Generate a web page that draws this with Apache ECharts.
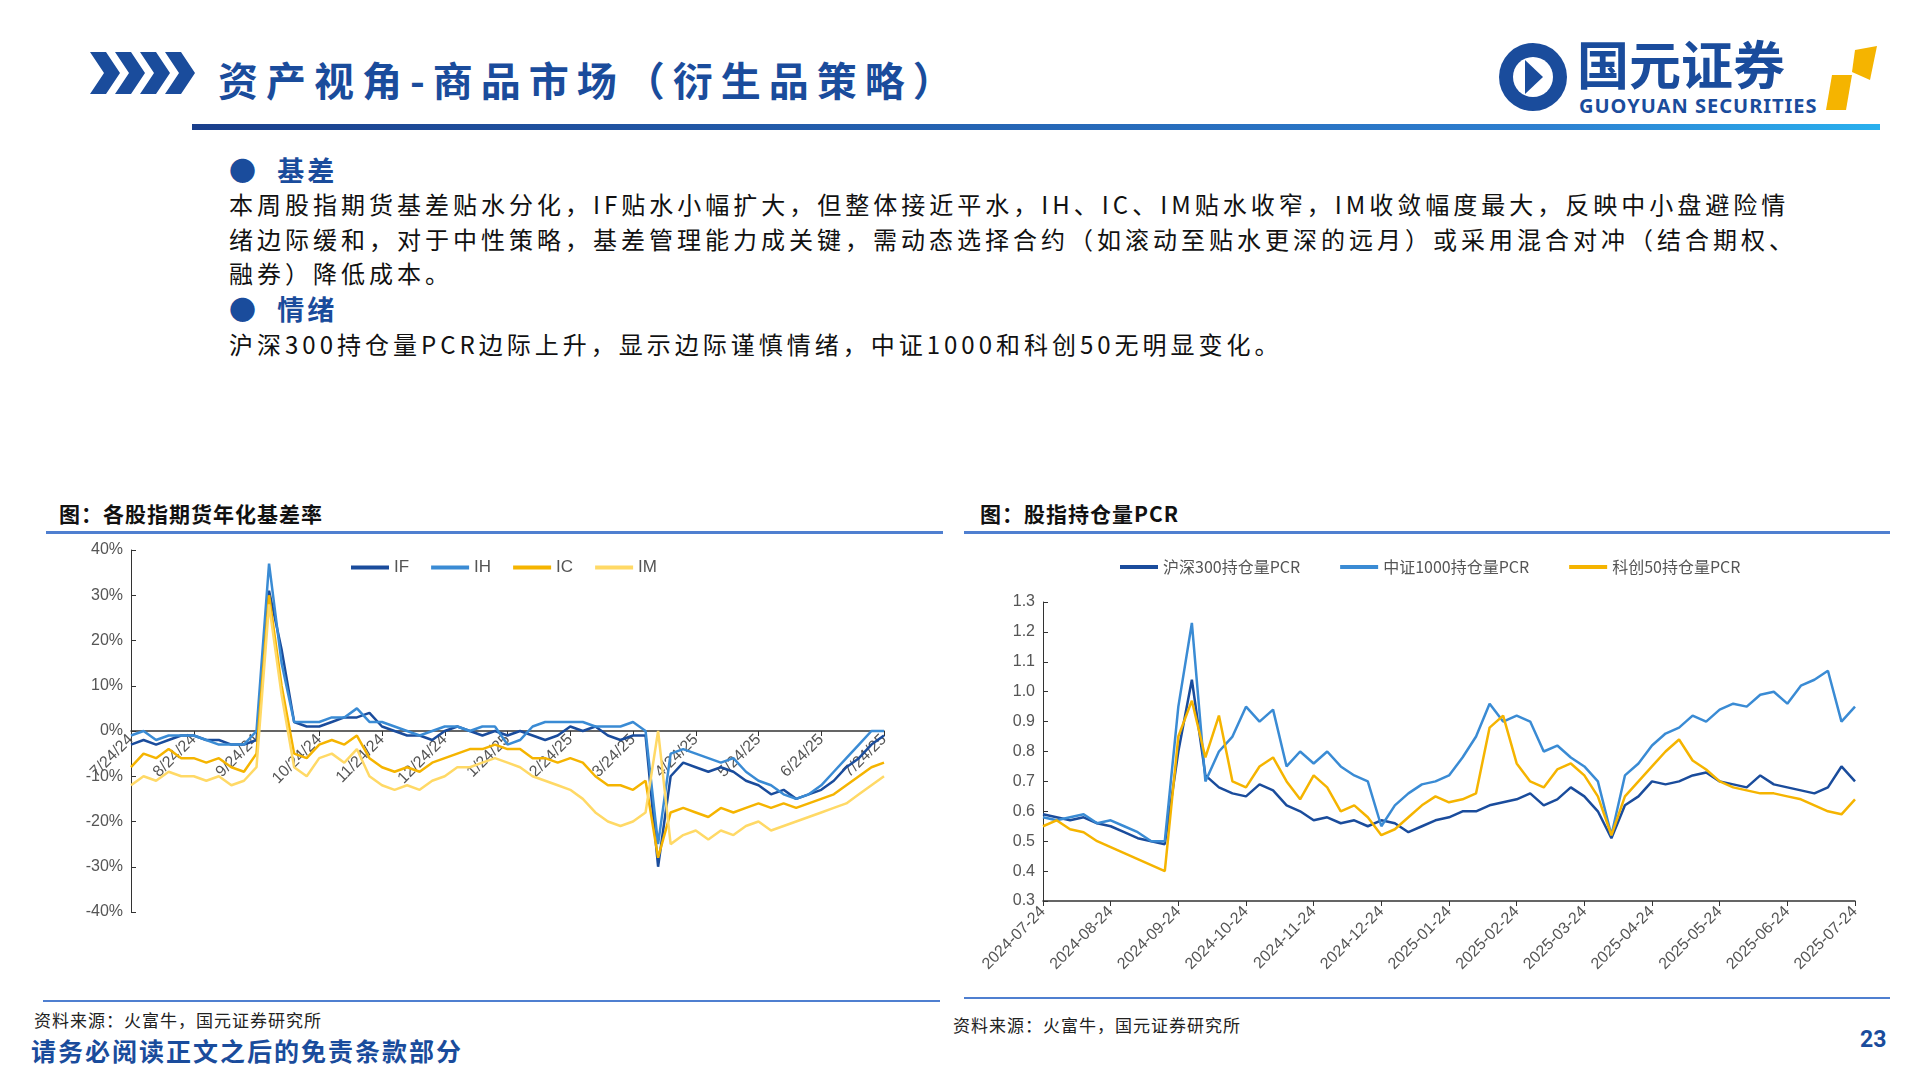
<!DOCTYPE html>
<html>
<head>
<meta charset="utf-8">
<script src="https://cdn.jsdelivr.net/npm/echarts@6/dist/echarts.min.js"></script>
<style>
  body { margin: 0; width: 1920px; height: 1080px; background: #fff; position: relative; overflow: hidden;
         font-family: "Noto Sans CJK SC", sans-serif; }
  .abs { position: absolute; }
  .title { left: 218px; top: 50px; font-size: 40px; font-weight: bold; color: #1a4c9c; letter-spacing: 8px; }
  .topline { left: 192px; top: 124px; width: 1688px; height: 6px; background: linear-gradient(90deg, #1a3f8c, #2d7fd0 80%, #29b0ee); }
  .bullet { font-size: 27px; color: #1a4c9c; font-weight: bold; left: 229px; letter-spacing: 3px; }
  .body { font-size: 24px; color: #111; left: 229px; width: 1585px; line-height: 34.5px; letter-spacing: 4px; }
  .ctitle { font-size: 21px; font-weight: bold; color: #111; top: 498px; letter-spacing: 1px; }
  .cline { height: 3px; background: #4f7fd0; top: 531px; }
  .bline { height: 2px; background: #4f7fd0; }
  .src { font-size: 17px; color: #222; letter-spacing: 1px; }
</style>
</head>
<body>
<svg class="abs" style="left:90px;top:52px" width="105" height="42">
  <polygon points="0,0 16,0 30,21 16,42 0,42 14,21" fill="#1a4c9c"/>
  <polygon points="25,0 41,0 55,21 41,42 25,42 39,21" fill="#1a4c9c"/>
  <polygon points="50,0 66,0 80,21 66,42 50,42 64,21" fill="#1a4c9c"/>
  <polygon points="75,0 91,0 105,21 91,42 75,42 89,21" fill="#1a4c9c"/>
</svg>
<div class="abs title">资产视角-商品市场（衍生品策略）</div>
<svg class="abs" style="left:1497px;top:38px" width="383" height="78">
  <circle cx="36" cy="39" r="34" fill="#1a4c9c"/>
  <circle cx="36" cy="39" r="20" fill="#fff"/>
  <path d="M28 22 L46 39 L28 56 Z" fill="#1a4c9c"/>
  <text x="80" y="47" font-size="52" font-weight="bold" fill="#1a4c9c" font-family="Noto Sans CJK SC">国元证券</text>
  <text x="82" y="75" font-size="20" font-weight="bold" fill="#1a4c9c" font-family="Noto Sans" letter-spacing="1">GUOYUAN SECURITIES</text>
  <polygon points="335,37 355,37 349,72 329,72" fill="#f5b400"/>
  <polygon points="358,12 380,8 373,42 355,34" fill="#f5b400"/>
</svg>
<div class="abs topline"></div>

<div class="abs bullet" style="top:150px">●&nbsp;&nbsp;基差</div>
<div class="abs body" style="top:187px">本周股指期货基差贴水分化，IF贴水小幅扩大，但整体接近平水，IH、IC、IM贴水收窄，IM收敛幅度最大，反映中小盘避险情绪边际缓和，对于中性策略，基差管理能力成关键，需动态选择合约（如滚动至贴水更深的远月）或采用混合对冲（结合期权、融券）降低成本。</div>
<div class="abs bullet" style="top:289px">●&nbsp;&nbsp;情绪</div>
<div class="abs body" style="top:327px">沪深300持仓量PCR边际上升，显示边际谨慎情绪，中证1000和科创50无明显变化。</div>

<div class="abs ctitle" style="left:59px">图：各股指期货年化基差率</div>
<div class="abs cline" style="left:46px;width:897px"></div>
<div class="abs ctitle" style="left:980px">图：股指持仓量PCR</div>
<div class="abs cline" style="left:964px;width:926px"></div>

<div id="c1" class="abs" style="left:40px;top:540px;width:900px;height:460px"></div>
<div id="c2" class="abs" style="left:950px;top:540px;width:950px;height:470px"></div>

<div class="abs bline" style="left:43px;top:1000px;width:897px"></div>
<div class="abs bline" style="left:964px;top:997px;width:926px"></div>
<div class="abs src" style="left:34px;top:1007px">资料来源：火富牛，国元证券研究所</div>
<div class="abs src" style="left:953px;top:1012px">资料来源：火富牛，国元证券研究所</div>
<div class="abs" style="left:31px;top:1032px;font-size:25px;font-weight:bold;color:#1a4c9c;letter-spacing:2px">请务必阅读正文之后的免责条款部分</div>
<div class="abs" style="left:1860px;top:1026px;font-size:23px;font-weight:bold;color:#1a4c9c;font-family:Roboto">23</div>

<script>
// month tick labels, 5 samples per month + final point
const monthsShort = ["7/24/24","8/24/24","9/24/24","10/24/24","11/24/24","12/24/24","1/24/25","2/24/25","3/24/25","4/24/25","5/24/25","6/24/25","7/24/25"];
const monthsLong = ["2024-07-24","2024-08-24","2024-09-24","2024-10-24","2024-11-24","2024-12-24","2025-01-24","2025-02-24","2025-03-24","2025-04-24","2025-05-24","2025-06-24","2025-07-24"];

// basis rate, %
const ifData = [-3,-2,-3,-2,-1, -1,-2,-2,-3,-3, -2,31,18,2,1, 1,2,3,3,4, 1,0,-1,-1,-2, 0,1,0,-1,0, -1,0,-1,-2,-1, 1,0,1,-1,-2, -1,-1,-30,-10,-7, -8,-9,-8,-9,-11, -12,-14,-13,-15,-14, -13,-11,-8,-6,-3, -1];
const ihData = [-1,0,-2,-1,-1, -1,-2,-3,-3,-3, 0,37,15,2,2, 2,3,3,5,2, 2,1,0,-1,0, 1,1,0,1,1, -3,-2,1,2,2, 2,2,1,1,1, 2,0,-25,-5,-4, -5,-6,-7,-6,-9, -11,-12,-14,-15,-14, -12,-9,-6,-3,0, 0];
const icData = [-8,-5,-6,-4,-6, -6,-7,-6,-8,-9, -5,30,10,-5,-6, -3,-2,-3,-1,-6, -8,-9,-8,-9,-7, -6,-5,-4,-4,-3, -4,-4,-6,-6,-7, -6,-7,-10,-12,-12, -13,-11,-28,-18,-17, -18,-19,-17,-18,-17, -16,-17,-16,-17,-16, -15,-14,-12,-10,-8, -7];
const imData = [-12,-10,-11,-9,-10, -10,-11,-10,-12,-11, -8,28,8,-8,-10, -6,-5,-7,-4,-10, -12,-13,-12,-13,-11, -10,-8,-8,-7,-6, -7,-8,-10,-11,-12, -13,-15,-18,-20,-21, -20,-18,0,-25,-23, -22,-24,-22,-23,-21, -20,-22,-21,-20,-19, -18,-17,-16,-14,-12, -10];

// open interest PCR
const pcr300 = [0.59,0.58,0.57,0.58,0.56, 0.55,0.53,0.51,0.50,0.49, 0.80,1.04,0.72,0.68,0.66, 0.65,0.69,0.67,0.62,0.60, 0.57,0.58,0.56,0.57,0.55, 0.57,0.56,0.53,0.55,0.57, 0.58,0.60,0.60,0.62,0.63, 0.64,0.66,0.62,0.64,0.68, 0.65,0.60,0.51,0.62,0.65, 0.70,0.69,0.70,0.72,0.73, 0.70,0.69,0.68,0.72,0.69, 0.68,0.67,0.66,0.68,0.75, 0.70];
const pcr1000 = [0.58,0.57,0.58,0.59,0.56, 0.57,0.55,0.53,0.50,0.50, 0.95,1.23,0.70,0.80,0.85, 0.95,0.90,0.94,0.75,0.80, 0.76,0.80,0.75,0.72,0.70, 0.55,0.62,0.66,0.69,0.70, 0.72,0.78,0.85,0.96,0.90, 0.92,0.90,0.80,0.82,0.78, 0.75,0.70,0.52,0.72,0.76, 0.82,0.86,0.88,0.92,0.90, 0.94,0.96,0.95,0.99,1.00, 0.96,1.02,1.04,1.07,0.90, 0.95];
const pcr50 = [0.55,0.57,0.54,0.53,0.50, 0.48,0.46,0.44,0.42,0.40, 0.85,0.97,0.78,0.92,0.70, 0.68,0.75,0.78,0.70,0.64, 0.72,0.68,0.60,0.62,0.58, 0.52,0.54,0.58,0.62,0.65, 0.63,0.64,0.66,0.88,0.92, 0.76,0.70,0.68,0.74,0.76, 0.72,0.65,0.52,0.65,0.70, 0.75,0.80,0.84,0.77,0.74, 0.70,0.68,0.67,0.66,0.66, 0.65,0.64,0.62,0.60,0.59, 0.64];

function buildCats(labels) {
  const cats = [];
  labels.forEach((m, i) => {
    if (i === labels.length - 1) { cats.push(m); return; }
    for (let k = 0; k < 5; k++) cats.push(k === 0 ? m : m + "#" + k);
  });
  return cats;
}
const fmt = v => (v.indexOf("#") >= 0 ? "" : v);
const axisFont = { color: "#555", fontFamily: "Liberation Sans Narrow, Liberation Sans", fontSize: 16 };

const c1 = echarts.init(document.getElementById("c1"));
c1.setOption({
  animation: false,
  legend: { top: 14, left: 306, itemWidth: 38, itemHeight: 4, itemGap: 22, icon: "rect",
    textStyle: { color: "#555", fontSize: 17, fontFamily: "Liberation Sans" } },
  grid: { left: 91, top: 10, right: 56, bottom: 88 },
  xAxis: { type: "category", data: buildCats(monthsShort), boundaryGap: false,
    // axis sits on the 0% line: half of the grid height up from the bottom
    offset: -181,
    axisLine: { onZero: false, lineStyle: { color: "#333", width: 1.5 } },
    axisTick: { interval: 4, lineStyle: { color: "#333" } },
    axisLabel: Object.assign({ interval: 0, rotate: 45, formatter: fmt, margin: 6 }, axisFont) },
  yAxis: { type: "value", min: -40, max: 40, interval: 10, splitLine: { show: false },
    axisLine: { show: true, lineStyle: { color: "#333" } }, axisTick: { show: true, inside: true },
    axisLabel: Object.assign({ formatter: "{value}%" }, axisFont) },
  series: [
    { name: "IF", type: "line", data: ifData, color: "#1a4c9c" },
    { name: "IH", type: "line", data: ihData, color: "#3a8bd4" },
    { name: "IC", type: "line", data: icData, color: "#f5b400" },
    { name: "IM", type: "line", data: imData, color: "#ffd966" }
  ].map(s => Object.assign(s, { showSymbol: false, lineStyle: { width: 2.5 } }))
});

const c2 = echarts.init(document.getElementById("c2"));
c2.setOption({
  animation: false,
  legend: { top: 14, left: 165, itemWidth: 38, itemHeight: 4, itemGap: 40, icon: "rect",
    textStyle: { color: "#555", fontSize: 16, fontFamily: "Noto Sans CJK SC" } },
  grid: { left: 93, top: 62, right: 45, bottom: 109 },
  xAxis: { type: "category", data: buildCats(monthsLong), boundaryGap: false,
    axisLine: { lineStyle: { color: "#333", width: 1.5 } },
    axisTick: { interval: 4, lineStyle: { color: "#333" } },
    axisLabel: Object.assign({ interval: 0, rotate: 45, formatter: fmt, margin: 8 }, axisFont) },
  yAxis: { type: "value", min: 0.3, max: 1.3, interval: 0.1, splitLine: { show: false },
    axisLine: { show: true, lineStyle: { color: "#333" } }, axisTick: { show: true, inside: true },
    axisLabel: Object.assign({ formatter: v => v.toFixed(1) }, axisFont) },
  series: [
    { name: "沪深300持仓量PCR", type: "line", data: pcr300, color: "#1a4c9c" },
    { name: "中证1000持仓量PCR", type: "line", data: pcr1000, color: "#3a8bd4" },
    { name: "科创50持仓量PCR", type: "line", data: pcr50, color: "#f5b400" }
  ].map(s => Object.assign(s, { showSymbol: false, lineStyle: { width: 2.5 } }))
});
</script>
</body>
</html>
